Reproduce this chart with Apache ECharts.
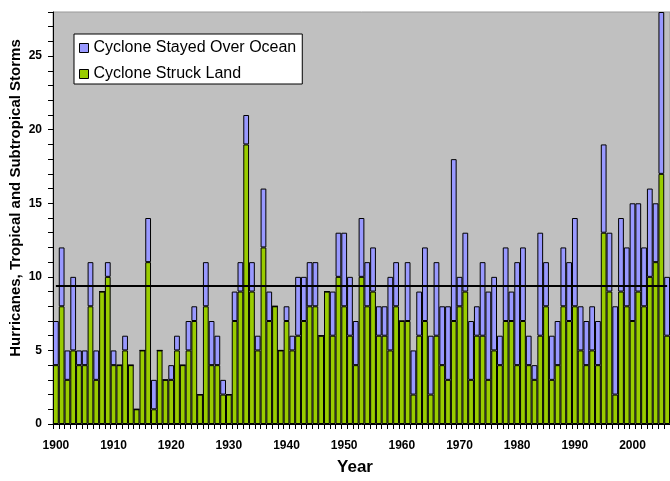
<!DOCTYPE html>
<html>
<head>
<meta charset="utf-8">
<script src="https://cdn.jsdelivr.net/npm/echarts@6/dist/echarts.min.js"></script>
<style>
  html, body { margin: 0; padding: 0; background: #ffffff; }
  #chart { width: 670px; height: 481px; }
</style>
</head>
<body>
<div id="chart"></div>
<script>
// Atlantic cyclones per season, split by whether they made landfall
const years = [];
for (let y = 1900; y <= 2006; y++) years.push(String(y));

const struckLand = [
  4, 8, 3, 5, 4, 4, 8, 3, 9, 10,
  4, 4, 5, 4, 1, 5, 11, 1, 5, 3,
  3, 5, 4, 5, 7, 2, 8, 4, 4, 2,
  2, 7, 9, 19, 9, 5, 12, 7, 8, 5,
  7, 5, 6, 7, 8, 8, 6, 9, 6, 10,
  8, 6, 4, 10, 8, 9, 6, 6, 5, 8,
  7, 7, 2, 6, 7, 2, 6, 4, 3, 7,
  8, 9, 3, 6, 6, 3, 5, 4, 7, 7,
  4, 7, 4, 3, 6, 8, 3, 4, 8, 7,
  8, 5, 4, 5, 4, 13, 9, 2, 9, 8,
  7, 9, 8, 10, 11, 17, 6
];

const stayedOverOcean = [
  3, 4, 2, 5, 1, 1, 3, 2, 0, 1,
  1, 0, 1, 0, 0, 0, 3, 2, 0, 0,
  1, 1, 0, 2, 1, 0, 3, 3, 2, 1,
  0, 2, 2, 2, 2, 1, 4, 2, 0, 0,
  1, 1, 4, 3, 3, 3, 0, 0, 3, 3,
  5, 4, 3, 4, 3, 3, 2, 2, 5, 3,
  0, 4, 3, 3, 5, 4, 5, 4, 5, 11,
  2, 4, 4, 2, 5, 6, 5, 2, 5, 2,
  7, 5, 2, 1, 7, 3, 3, 3, 4, 4,
  6, 3, 3, 3, 3, 6, 4, 6, 5, 4,
  8, 6, 4, 6, 4, 11, 4
];

const averageLine = 9.4;

const chart = echarts.init(document.getElementById('chart'));
const font = 'Liberation Sans, Arial, sans-serif';

chart.setOption({
  animation: false,
  backgroundColor: '#ffffff',
  grid: {
    left: 53, right: 0, top: 12, bottom: 57,
    show: true,
    backgroundColor: '#C0C0C0',
    borderColor: '#999999',
    borderWidth: 1
  },
  graphic: [
    {
      type: 'text',
      x: 16, y: 198,
      rotation: Math.PI / 2,
      style: {
        text: 'Hurricanes, Tropical and Subtropical Storms',
        align: 'center', verticalAlign: 'middle',
        font: 'bold 15px ' + font,
        fill: '#000'
      }
    },
    {
      type: 'text',
      x: 355, y: 467,
      style: {
        text: 'Year',
        align: 'center', verticalAlign: 'middle',
        font: 'bold 17px ' + font,
        fill: '#000'
      }
    }
  ],
  legend: {
    orient: 'vertical',
    left: 74, top: 34,
    padding: [6, 6, 2, 5],
    backgroundColor: '#ffffff',
    borderColor: '#000000',
    borderWidth: 1,
    itemWidth: 9, itemHeight: 9,
    itemGap: 10,
    icon: 'rect',
    textStyle: { fontFamily: font, fontSize: 16, lineHeight: 16, color: '#000000' },
    data: [
      { name: 'Cyclone Stayed Over Ocean', itemStyle: { color: '#9999FF', borderColor: '#000', borderWidth: 1 } },
      { name: 'Cyclone Struck Land', itemStyle: { color: '#99CC00', borderColor: '#000', borderWidth: 1 } }
    ]
  },
  xAxis: {
    type: 'category',
    data: years,
    axisLine: { lineStyle: { color: '#000', width: 1 } },
    axisTick: { show: true, interval: 0, length: 5, lineStyle: { color: '#000' } },
    axisLabel: {
      interval: (idx) => idx % 10 === 0,
      fontFamily: font, fontSize: 12, fontWeight: 'bold', color: '#000', margin: 16
    }
  },
  yAxis: {
    type: 'value',
    min: 0, max: 28, interval: 1,
    axisLine: { show: true, lineStyle: { color: '#000', width: 1 } },
    axisTick: { show: true, length: 5, lineStyle: { color: '#000' } },
    splitLine: { show: false },
    axisLabel: {
      formatter: (v) => (v % 5 === 0 ? String(v) : ''),
      fontFamily: font, fontSize: 12, fontWeight: 'bold', color: '#000', margin: 11
    }
  },
  series: [
    {
      name: 'Cyclone Struck Land',
      type: 'bar',
      stack: 'total',
      data: struckLand,
      barCategoryGap: '0%',
      itemStyle: { color: '#99CC00', borderColor: '#000000', borderWidth: 1 },
      markLine: {
        silent: true,
        symbol: 'none',
        label: { show: false },
        lineStyle: { color: '#000000', width: 2, type: 'solid' },
        data: [[
          { coord: [0, averageLine] },
          { coord: [years.length - 1, averageLine] }
        ]]
      }
    },
    {
      name: 'Cyclone Stayed Over Ocean',
      type: 'bar',
      stack: 'total',
      data: stayedOverOcean,
      barCategoryGap: '0%',
      itemStyle: { color: '#9999FF', borderColor: '#000000', borderWidth: 1 }
    }
  ]
});
</script>
</body>
</html>
